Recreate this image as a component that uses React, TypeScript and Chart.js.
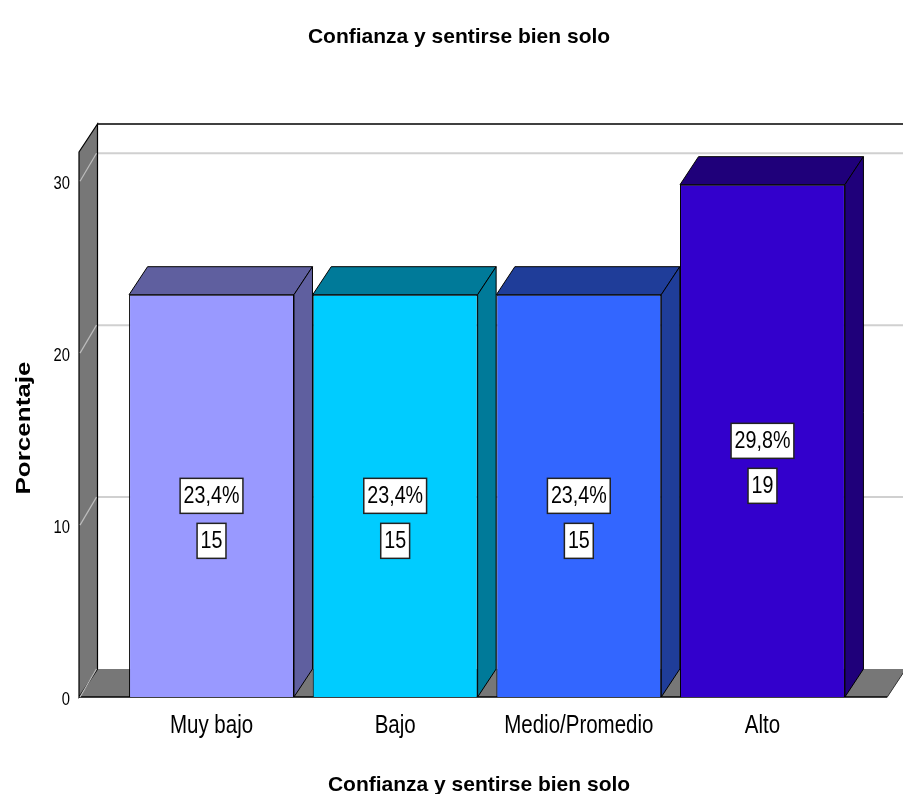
import React, { useEffect, useRef } from "react";
import { Chart, registerables } from "chart.js";

Chart.register(...registerables);

// ---- data ----
const categories = ["Muy bajo", "Bajo", "Medio/Promedio", "Alto"];
const percentages = [23.4, 23.4, 23.4, 29.8];
const counts = [15, 15, 15, 19];
const yTicks = [0, 10, 20, 30];
const yMax = 31.7;
const chartTitle = "Confianza y sentirse bien solo";
const xTitle = "Confianza y sentirse bien solo";
const yTitle = "Porcentaje";

// ---- styles ----
const frontColors = ["#9999FF", "#00CCFF", "#3366FF", "#3300CC"];
const shadeColors = ["#5F5F9F", "#007A99", "#1F3D99", "#1F007A"];
const FAMILY = '"Liberation Sans", Arial, sans-serif';
const NARROW = 0.82;
const DX = 18.5;
const DY = 28;

function drawText(
  ctx: CanvasRenderingContext2D,
  text: string,
  x: number,
  y: number,
  font: string,
  sx: number,
  align: CanvasTextAlign,
  baseline: CanvasTextBaseline,
  rotate = 0
) {
  ctx.save();
  ctx.font = font;
  ctx.fillStyle = "#000";
  ctx.textAlign = align;
  ctx.textBaseline = baseline;
  ctx.translate(x, y);
  if (rotate) ctx.rotate(rotate);
  ctx.scale(sx, 1);
  ctx.fillText(text, 0, 0);
  ctx.restore();
}

function poly(ctx: CanvasRenderingContext2D, pts: number[][], fill: string, stroke?: string, lw = 1) {
  ctx.beginPath();
  ctx.moveTo(pts[0][0], pts[0][1]);
  for (let i = 1; i < pts.length; i++) ctx.lineTo(pts[i][0], pts[i][1]);
  ctx.closePath();
  ctx.fillStyle = fill;
  ctx.fill();
  if (stroke) {
    ctx.strokeStyle = stroke;
    ctx.lineWidth = lw;
    ctx.stroke();
  }
}

function line(ctx: CanvasRenderingContext2D, x1: number, y1: number, x2: number, y2: number, color: string, lw: number) {
  ctx.beginPath();
  ctx.moveTo(x1, y1);
  ctx.lineTo(x2, y2);
  ctx.strokeStyle = color;
  ctx.lineWidth = lw;
  ctx.stroke();
}

const threeD = {
  id: "threeD",
  beforeDraw(chart: any) {
    const { ctx } = chart;
    ctx.save();
    ctx.fillStyle = "#fff";
    ctx.fillRect(0, 0, chart.width, chart.height);
    ctx.restore();
  },
  beforeDatasetsDraw(chart: any) {
    const { ctx, chartArea: ca, scales } = chart;
    const y = scales.y;
    const L = ca.left - 40.7;
    const T = ca.top;
    const B = ca.bottom;
    const R = ca.right + 33;
    const W = chart.width + 5;
    ctx.save();
    // back wall gridlines
    for (const v of yTicks) {
      if (v === 0) continue;
      const py = y.getPixelForValue(v) - DY;
      line(ctx, L + DX, py, W, py, "#d0d0d0", 2);
    }
    // back wall top border and left edge
    line(ctx, L + DX, T - DY, W, T - DY, "#000", 1.5);
    // floor
    poly(ctx, [[L, B], [L + DX, B - DY], [R + DX, B - DY], [R, B]], "#777777");
    line(ctx, L, B, R, B, "#000", 1.5);
    line(ctx, R, B, R + DX, B - DY, "#333", 1);
    // left wall
    poly(ctx, [[L, T], [L + DX, T - DY], [L + DX, B - DY], [L, B]], "#777777", "#000", 1.2);
    // left wall gridline diagonals
    for (const v of yTicks) {
      const py = y.getPixelForValue(v);
      line(ctx, L + 1, py, L + DX - 1, py - DY, "#bdbdbd", 1.2);
    }
    ctx.restore();
  },
  afterDatasetsDraw(chart: any) {
    const { ctx } = chart;
    const meta = chart.getDatasetMeta(0);
    ctx.save();
    meta.data.forEach((bar: any, i: number) => {
      const left = bar.x - bar.width / 2;
      const right = bar.x + bar.width / 2;
      const top = bar.y;
      const bottom = bar.base;
      poly(ctx, [[left, top], [left + DX, top - DY], [right + DX, top - DY], [right, top]], shadeColors[i], "#000", 1);
      poly(ctx, [[right, top], [right + DX, top - DY], [right + DX, bottom - DY], [right, bottom]], shadeColors[i], "#000", 1);
    });
    // data labels
    const lf = `24px ${FAMILY}`;
    meta.data.forEach((bar: any, i: number) => {
      const mid = (bar.y + bar.base) / 2;
      const items = [
        { t: percentages[i].toFixed(1).replace(".", ",") + "%", cy: mid },
        { t: String(counts[i]), cy: mid + 45 },
      ];
      for (const it of items) {
        ctx.font = lf;
        const tw = ctx.measureText(it.t).width * NARROW;
        const bw = tw + 7;
        const bh = 35;
        const bx = bar.x - bw / 2;
        const by = it.cy - bh / 2;
        ctx.fillStyle = "#fff";
        ctx.fillRect(bx, by, bw, bh);
        ctx.strokeStyle = "#222";
        ctx.lineWidth = 1.5;
        ctx.strokeRect(bx, by, bw, bh);
        drawText(ctx, it.t, bar.x, it.cy + 1, lf, NARROW, "center", "middle");
      }
    });
    ctx.restore();
  },
  afterDraw(chart: any) {
    const { ctx, chartArea: ca, scales } = chart;
    const x = scales.x;
    const y = scales.y;
    const L = ca.left - 40.7;
    // y tick labels
    for (const v of yTicks) {
      drawText(ctx, String(v), L - 9, y.getPixelForValue(v) + 3, `18px ${FAMILY}`, NARROW, "right", "middle");
    }
    // x category labels
    categories.forEach((c, i) => {
      drawText(ctx, c, x.getPixelForValue(i), ca.bottom + 36, `25px ${FAMILY}`, NARROW, "center", "alphabetic");
    });
    // titles
    drawText(ctx, chartTitle, 459, 43, `bold 21px ${FAMILY}`, 1, "center", "alphabetic");
    drawText(ctx, xTitle, 479, 791, `bold 21px ${FAMILY}`, 1, "center", "alphabetic");
    drawText(ctx, yTitle, 30, 428, `bold 20px ${FAMILY}`, 1.3, "center", "alphabetic", -Math.PI / 2);
  },
};

export default function App() {
  const ref = useRef<HTMLCanvasElement | null>(null);
  useEffect(() => {
    if (!ref.current) return;
    const chart = new Chart(ref.current, {
      type: "bar",
      data: {
        labels: categories,
        datasets: [
          {
            data: percentages,
            backgroundColor: frontColors,
            borderColor: "#000",
            borderWidth: 1,
            categoryPercentage: 1,
            barPercentage: 0.898,
          },
        ],
      },
      options: {
        responsive: false,
        animation: false,
        layout: { padding: { left: 119.7, right: 48.7, top: 152, bottom: 97 } },
        scales: {
          x: { display: false, offset: true },
          y: { display: false, min: 0, max: yMax },
        },
        plugins: {
          legend: { display: false },
          title: { display: false },
          tooltip: { enabled: false },
        },
      },
      plugins: [threeD],
    } as any);
    return () => chart.destroy();
  }, []);
  return (
    <canvas
      ref={ref}
      width={903}
      height={794}
      style={{ position: "absolute", left: 0, top: 0, width: 903, height: 794 }}
    />
  );
}
